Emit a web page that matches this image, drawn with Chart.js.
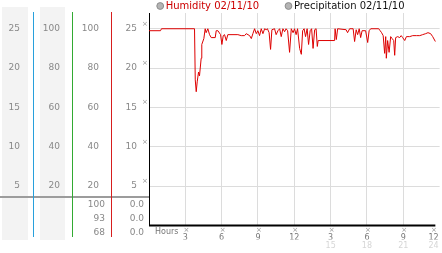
<!DOCTYPE html>
<html><head><meta charset="utf-8">
<script src="https://cdn.jsdelivr.net/npm/chart.js@4"></script>
<style>html,body{margin:0;padding:0;background:#fff;}canvas{display:block;}</style>
</head><body>
<canvas id="c" width="442" height="253"></canvas>
<script>
const hours = [0, 0.95, 1.03, 3.76, 3.82, 3.90, 3.98, 4.09, 4.17, 4.31,
  4.36, 4.53, 4.64, 4.72, 4.86, 5.00, 5.14, 5.47, 5.55, 5.69,
  5.91, 6.02, 6.13, 6.24, 6.38, 6.51, 7.34, 7.62, 7.89, 8.03,
  8.31, 8.45, 8.58, 8.72, 8.86, 8.99, 9.13, 9.27, 9.41, 9.55,
  9.68, 9.78, 9.92, 10.04, 10.15, 10.37, 10.50, 10.65, 10.79, 10.92,
  11.06, 11.20, 11.32, 11.45, 11.61, 11.75, 11.90, 12.02, 12.15, 12.27,
  12.44, 12.58, 12.69, 12.81, 12.93, 13.06, 13.18, 13.31, 13.43, 13.55,
  13.68, 13.80, 13.90, 13.97, 15.33, 15.37, 15.47, 15.58, 16.28, 16.40,
  16.57, 16.86, 16.98, 17.11, 17.23, 17.36, 17.48, 17.60, 17.89, 18.06,
  18.18, 18.31, 18.97, 19.09, 19.21, 19.34, 19.46, 19.55, 19.60, 19.71,
  19.83, 19.96, 20.08, 20.21, 20.29, 20.37, 20.54, 20.70, 20.83, 20.95,
  21.12, 21.26, 21.53, 21.78, 22.08, 22.36, 22.60, 22.85, 23.04, 23.26,
  23.43, 23.65];
const humidity = [99, 99, 100, 100, 74, 68, 73, 78, 76, 85,
  92, 95, 100, 98, 100, 97, 95.5, 95.5, 99, 99,
  97, 92, 96.5, 97, 94, 97, 97, 96.5, 96.5, 97.5,
  96.5, 95, 97.5, 100, 97.5, 99, 96.5, 100, 97.5, 100,
  99.5, 100, 98, 89.5, 99.5, 100, 97, 99, 100, 96,
  100, 98.5, 100, 99, 88, 100, 98, 100, 97, 100,
  90, 87, 99, 100, 96, 100, 92, 99, 100, 90,
  99.5, 100, 91, 94, 94, 100, 94.5, 100, 99.5, 98,
  100, 100, 93.5, 99.5, 97, 100, 95.5, 99, 99, 93,
  99, 100, 100, 99, 98, 96.5, 87.5, 96, 85, 94,
  88, 96, 95, 94, 86.5, 95.5, 96, 95.5, 96.5, 95.5,
  94, 96, 96, 96.5, 96.5, 96.5, 97, 97.5, 98, 97.5,
  96, 93.5];
const precipHours = [0, 23.65];
const precipitation = [0, 0];
const xTickHours = [3, 6, 9, 12, 15, 18, 21, 24];
const xTickLabels = ['3', '6', '9', '12', '3', '6', '9', '12'];
const xFaintHours = [15, 18, 21, 24];
const xFaintLabels = ['15', '18', '21', '24'];
const yTicks25 = [5, 10, 15, 20, 25];
const yTicks100 = [20, 40, 60, 80, 100];
const humidityStats = ['100', '93', '68'];
const precipStats = ['0.0', '0.0', '0.0'];
const legendNames = ['Humidity 02/11/10', 'Precipitation 02/11/10'];

const FONT = 'DejaVu Sans';
const GRAY = '#888';
const legFont = 10;
const mctx = document.createElement('canvas').getContext('2d');
mctx.font = legFont + 'px "' + FONT + '"';
const tw1 = mctx.measureText(legendNames[0]).width;
const LEG_X1 = 160.2, LEG_X2 = 288.5, LEG_Y = 6;
const legPad = Math.max(4, LEG_X2 - LEG_X1 - (1 + legFont / 2 + tw1));

const deco = {
  id: 'deco',
  afterLayout(chart) {
    const lg = chart.legend;
    const h = lg.bottom - lg.top;
    lg.top = LEG_Y - legFont / 2 - legPad;
    lg.bottom = lg.top + h;
    lg.left = LEG_X1 - 0.5 - legPad;
    lg.right = 700;
    lg.width = lg.right - lg.left;
  },
  beforeDraw(chart) {
    const ctx = chart.ctx;
    const s0 = chart.scales.y0, s1 = chart.scales.y1;
    ctx.save();
    ctx.fillStyle = '#f3f3f3';
    ctx.fillRect(s0.right - 31, 7, 26, 233);
    ctx.fillRect(s1.right - 32, 7, 25, 233);
    ctx.restore();
  },
  afterDraw(chart) {
    const ctx = chart.ctx;
    const ca = chart.chartArea;
    const sc = chart.scales;
    ctx.save();
    ctx.fillStyle = '#9c9c9c';
    ctx.fillRect(0, 196, Math.round(ca.left), 2);
    const axisLines = [['y0', 'rgb(40,160,220)'], ['y1', 'rgb(50,170,50)'], ['y2', 'rgb(215,30,30)']];
    axisLines.forEach(pair => {
      ctx.fillStyle = pair[1];
      ctx.fillRect(Math.round(sc[pair[0]].right), 12, 1, 225);
    });
    ctx.font = '9px "' + FONT + '"';
    ctx.fillStyle = GRAY;
    ctx.textAlign = 'right';
    ctx.textBaseline = 'middle';
    const rowY = [204.5, 218.5, 232.5];
    humidityStats.forEach((t, i) => ctx.fillText(t, sc.y2.right - 6, rowY[i]));
    precipStats.forEach((t, i) => ctx.fillText(t, sc.y3.right - 5, rowY[i]));
    ctx.font = '7px "' + FONT + '"';
    ctx.textAlign = 'center';
    ctx.fillStyle = '#999';
    yTicks25.forEach(v => ctx.fillText('\u00d7', sc.y3.right - 4, sc.y3.getPixelForValue(v) - 5));
    xTickHours.forEach(h => ctx.fillText('\u00d7', Math.min(sc.x.getPixelForValue(h) + 1, 434), 230));
    ctx.font = '8px "' + FONT + '"';
    ctx.textAlign = 'left';
    ctx.fillStyle = '#777';
    ctx.fillText('Hours', ca.left + 6, 232);
    ctx.restore();
  }
};

function yTicksSetter(list) { return s => { s.ticks = list.map(v => ({ value: v })); }; }
function yFit(w) { return s => { s.width = w; s.paddingTop = 0; s.paddingBottom = 0; }; }
const yTickFont = { family: FONT, size: 9 };

new Chart(document.getElementById('c'), {
  type: 'line',
  data: {
    datasets: [
      {
        label: legendNames[0],
        data: hours.map((h, i) => ({ x: h, y: humidity[i] })),
        xAxisID: 'x', yAxisID: 'y2',
        borderColor: '#dd0000', borderWidth: 1, pointRadius: 0, fill: false, tension: 0
      },
      {
        label: legendNames[1],
        data: precipHours.map((h, i) => ({ x: h, y: precipitation[i] })),
        xAxisID: 'x', yAxisID: 'y3',
        borderColor: '#000', borderWidth: 2, pointRadius: 0, fill: false, tension: 0, clip: false
      }
    ]
  },
  options: {
    responsive: false, animation: false, devicePixelRatio: 1, events: [],
    layout: { padding: { top: 13 - (legFont + legPad + 10), left: 0, right: 2.4, bottom: 0 } },
    plugins: {
      tooltip: { enabled: false },
      legend: {
        position: 'top', align: 'start',
        labels: {
          usePointStyle: true, pointStyle: 'circle', boxWidth: 1, boxHeight: 4.8,
          padding: legPad, font: { family: FONT, size: legFont },
          generateLabels: chart => {
            const items = Chart.defaults.plugins.legend.labels.generateLabels(chart);
            items.forEach((it, i) => {
              it.fillStyle = '#b4b4b4'; it.strokeStyle = '#8c8c8c'; it.lineWidth = 1;
              it.pointStyle = 'circle'; it.fontColor = i === 0 ? '#cc0000' : '#111';
            });
            return items;
          }
        }
      }
    },
    scales: {
      x: {
        type: 'linear', position: 'bottom', min: 0, max: 24, weight: 1,
        afterBuildTicks: s => { s.ticks = xTickHours.map(v => ({ value: v })); },
        afterFit: s => { s.height = 14; s.paddingLeft = 0; s.paddingRight = 0; },
        grid: { color: c => (c.tick && c.tick.value === 24) ? 'rgba(0,0,0,0)' : '#dcdcdc', drawTicks: false },
        border: { display: false },
        ticks: {
          padding: 7.7, color: '#777', font: { family: FONT, size: 8 }, maxRotation: 0, autoSkip: false,
          callback: v => {
            let l = xTickLabels[xTickHours.indexOf(v)];
            if (v === 24) l += '\u2002\u2002\u2002';
            return l;
          }
        }
      },
      x2: {
        type: 'linear', position: 'bottom', min: 0, max: 24, weight: 2,
        afterBuildTicks: s => { s.ticks = xFaintHours.map(v => ({ value: v })); },
        afterFit: s => { s.height = 13.5; s.paddingLeft = 0; s.paddingRight = 0; },
        grid: { display: false, drawTicks: false },
        border: { display: false },
        ticks: {
          padding: 1.2, color: '#d6d6d6', font: { family: FONT, size: 8 }, maxRotation: 0, autoSkip: false,
          callback: v => {
            let l = xFaintLabels[xFaintHours.indexOf(v)];
            if (v === 24) l += '\u2002\u2002\u2002';
            return l;
          }
        }
      },
      y0: {
        type: 'linear', position: 'left', weight: 4, min: 0, max: 27,
        afterBuildTicks: yTicksSetter(yTicks25), afterFit: yFit(33),
        grid: { display: false, drawTicks: false }, border: { display: false },
        ticks: { padding: 13, color: GRAY, font: yTickFont }
      },
      y1: {
        type: 'linear', position: 'left', weight: 3, min: 0, max: 108,
        afterBuildTicks: yTicksSetter(yTicks100), afterFit: yFit(39),
        grid: { display: false, drawTicks: false }, border: { display: false },
        ticks: { padding: 12, color: GRAY, font: yTickFont }
      },
      y2: {
        type: 'linear', position: 'left', weight: 2, min: 0, max: 108,
        afterBuildTicks: yTicksSetter(yTicks100), afterFit: yFit(39),
        grid: { display: false, drawTicks: false }, border: { display: false },
        ticks: { padding: 12, color: GRAY, font: yTickFont }
      },
      y3: {
        type: 'linear', position: 'left', weight: 1, min: 0, max: 27,
        afterBuildTicks: yTicksSetter(yTicks25), afterFit: yFit(38),
        grid: { color: '#dcdcdc', drawTicks: false },
        border: { display: true, color: '#000', width: 1 },
        ticks: { padding: 12, color: GRAY, font: yTickFont }
      }
    }
  },
  plugins: [deco]
});
</script>
</body></html>
